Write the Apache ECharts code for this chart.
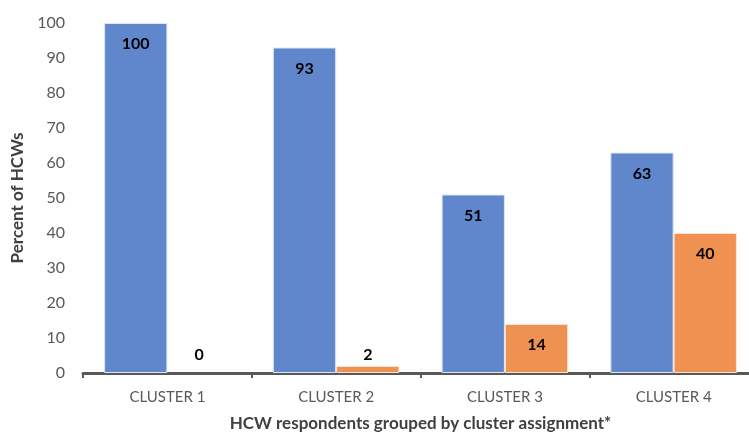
<!DOCTYPE html>
<html>
<head>
<meta charset="utf-8">
<script src="https://cdn.jsdelivr.net/npm/echarts@6/dist/echarts.min.js"></script>
<style>
  html, body { margin: 0; padding: 0; background: #fff; }
  #main { width: 749px; height: 434px; }
</style>
</head>
<body>
<div id="main"></div>
<script>
var categories = ['CLUSTER 1', 'CLUSTER 2', 'CLUSTER 3', 'CLUSTER 4'];
var blueValues = [100, 93, 51, 63];
var orangeValues = [0, 2, 14, 40];

var font = 'Lato, "Noto Sans", sans-serif';

// small orange bars get their label above the bar, like the original
var orangeData = orangeValues.map(function (v) {
    if (v < 5) {
        return {
            value: v,
            itemStyle: v === 0 ? { borderWidth: 0 } : {},
            label: { position: 'top', distance: v === 0 ? 10 : 3 }
        };
    }
    return v;
});

var option = {
    animation: false,
    grid: { left: 83, right: -9, top: 23, bottom: 61, outerBoundsMode: 'none', containLabel: false },
    xAxis: {
        type: 'category',
        data: categories,
        name: 'HCW respondents grouped by cluster assignment*',
        nameLocation: 'middle',
        nameGap: 42,
        nameTextStyle: { fontFamily: font, fontSize: 17, fontWeight: 'bold', color: '#404040' },
        axisLine: { lineStyle: { color: '#595959', width: 3 } },
        axisTick: { show: true, length: 5, lineStyle: { color: '#595959', width: 2 } },
        axisLabel: { fontFamily: font, fontSize: 15, color: '#595959', margin: 17 }
    },
    yAxis: {
        type: 'value',
        min: 0,
        max: 100,
        interval: 10,
        name: 'Percent of HCWs',
        nameLocation: 'middle',
        nameGap: 55,
        nameTextStyle: { fontFamily: font, fontSize: 17, fontWeight: 'bold', color: '#404040' },
        axisLine: { show: false },
        axisTick: { show: false },
        splitLine: { show: false },
        axisLabel: { fontFamily: font, fontSize: 16, color: '#595959', margin: 18 }
    },
    series: [
        {
            name: 'blue',
            type: 'bar',
            data: blueValues,
            barGap: '0%',
            barCategoryGap: '25%',
            itemStyle: { color: '#6087CC', borderColor: '#dce6f5', borderWidth: 1 },
            label: {
                show: true,
                position: 'insideTop',
                distance: 13,
                fontFamily: font,
                fontSize: 16,
                fontWeight: 'bold',
                color: '#000'
            }
        },
        {
            name: 'orange',
            type: 'bar',
            data: orangeData,
            itemStyle: { color: '#EF9150', borderColor: '#fbe3d3', borderWidth: 1 },
            label: {
                show: true,
                position: 'insideTop',
                distance: 13,
                fontFamily: font,
                fontSize: 16,
                fontWeight: 'bold',
                color: '#000'
            }
        }
    ]
};

var myChart = echarts.init(document.getElementById('main'));
myChart.setOption(option);
</script>
</body>
</html>
